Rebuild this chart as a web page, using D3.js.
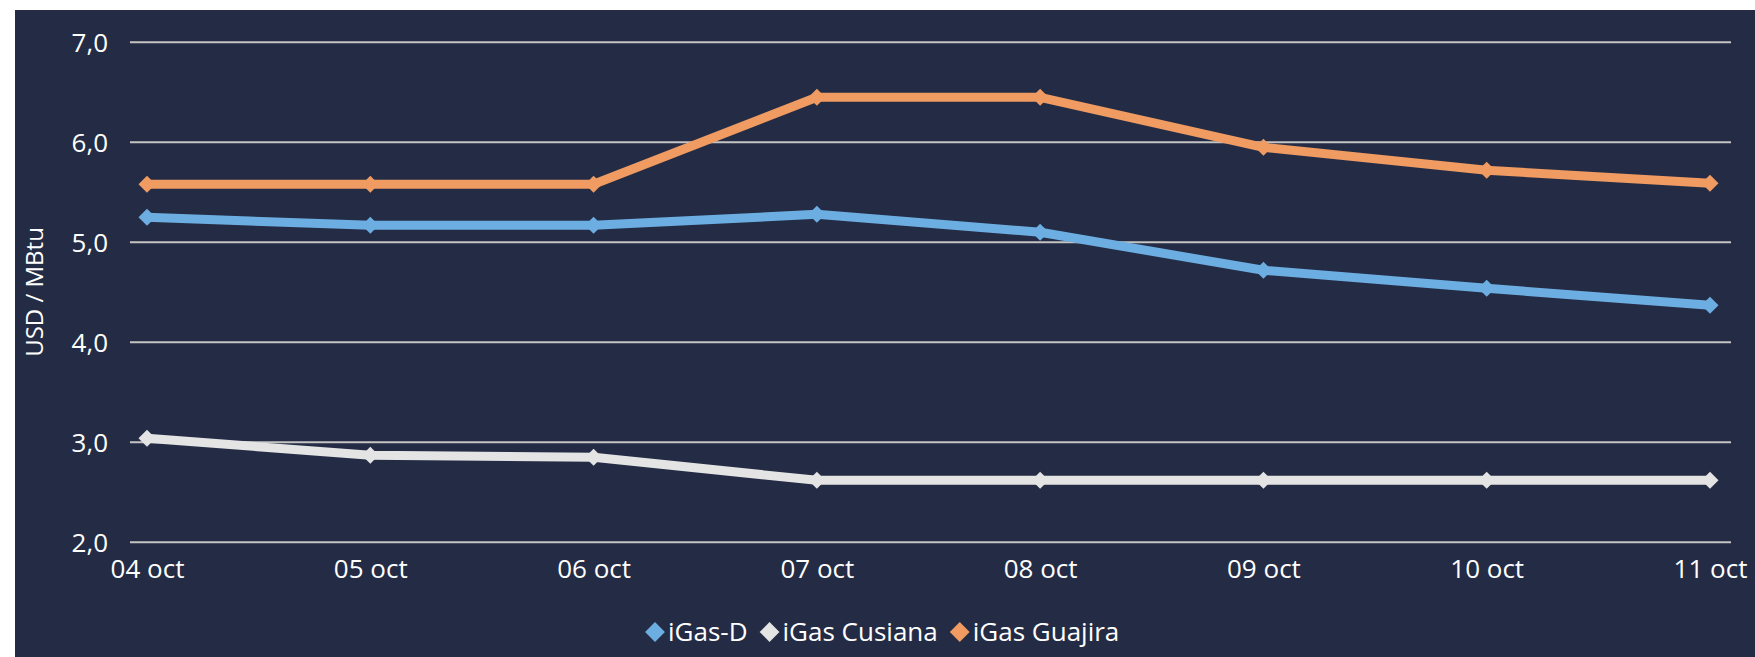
<!DOCTYPE html>
<html>
<head>
<meta charset="utf-8">
<script src="https://cdn.jsdelivr.net/npm/d3@7"></script>
<style>
  body { margin: 0; background: #ffffff; }
  svg text { font-family: "Open Sans", "Noto Sans", sans-serif; fill: #ffffff; }
</style>
</head>
<body>
<svg id="chart"></svg>
<script>
// datos
var fechas = ["04 oct", "05 oct", "06 oct", "07 oct", "08 oct", "09 oct", "10 oct", "11 oct"];
var igasD = [5.25, 5.17, 5.17, 5.28, 5.10, 4.72, 4.54, 4.37];
var igasCusiana = [3.04, 2.87, 2.85, 2.62, 2.62, 2.62, 2.62, 2.62];
var igasGuajira = [5.58, 5.58, 5.58, 6.45, 6.45, 5.95, 5.72, 5.59];
var ticksY = [2, 3, 4, 5, 6, 7];

var series = [
  { nombre: "iGas-D", valores: igasD, color: "#6daee2" },
  { nombre: "iGas Cusiana", valores: igasCusiana, color: "#e4e4e4" },
  { nombre: "iGas Guajira", valores: igasGuajira, color: "#ef9b62" }
];

var w = 1755, h = 657;
var svg = d3.select("#chart").attr("width", w).attr("height", h);

// fondo oscuro
svg.append("rect")
  .attr("x", 15).attr("y", 10)
  .attr("width", w - 15).attr("height", h - 10)
  .attr("fill", "#242c45");

var x = d3.scalePoint().domain(fechas).range([147, 1710]);
var y = d3.scaleLinear().domain([2, 7]).range([542.3, 42.3]);

// lineas de la rejilla
svg.selectAll(".grid")
  .data(ticksY)
  .enter()
  .append("line")
  .attr("x1", 130).attr("x2", 1731)
  .attr("y1", function(d){ return y(d); })
  .attr("y2", function(d){ return y(d); })
  .attr("stroke", "#c4c4c4")
  .attr("stroke-width", 2);

// etiquetas eje y
var fmt = function(d){ return d.toFixed(1).replace(".", ","); };
var ejeY = d3.axisLeft(y).tickValues(ticksY).tickFormat(fmt).tickSize(0).tickPadding(0);
var gY = svg.append("g").attr("transform", "translate(108,0)").call(ejeY);
gY.select(".domain").remove();
gY.selectAll("text").style("font-size", "26px").attr("fill", "#ffffff").attr("dy", "0.35em");

// etiquetas eje x
var ejeX = d3.axisBottom(x).tickSize(0).tickPadding(0);
var gX = svg.append("g").attr("transform", "translate(0,558)").call(ejeX);
gX.select(".domain").remove();
gX.selectAll("text").style("font-size", "26px").attr("fill", "#ffffff").attr("dy", "0.75em");

// titulo eje y
svg.append("text")
  .attr("transform", "translate(43,292) rotate(-90)")
  .attr("text-anchor", "middle")
  .style("font-size", "24px")
  .text("USD / MBtu");

var linea = d3.line()
  .x(function(d, i){ return x(fechas[i]); })
  .y(function(d){ return y(d); });

var diamante = d3.symbol().type(d3.symbolSquare).size(144);

series.forEach(function(s){
  svg.append("path")
    .attr("d", linea(s.valores))
    .attr("fill", "none")
    .attr("stroke", s.color)
    .attr("stroke-width", 9)
    .attr("stroke-linejoin", "round");
  svg.selectAll(null)
    .data(s.valores)
    .enter()
    .append("path")
    .attr("d", diamante)
    .attr("fill", s.color)
    .attr("transform", function(d, i){
      return "translate(" + x(fechas[i]) + "," + y(d) + ") rotate(45)";
    });
});

// leyenda
var leyenda = svg.append("g");
var posX = 645;
var diamLeyenda = d3.symbol().type(d3.symbolSquare).size(196);
series.forEach(function(s){
  leyenda.append("path")
    .attr("d", diamLeyenda)
    .attr("fill", s.color)
    .attr("transform", "translate(" + (posX + 10) + ",632) rotate(45)");
  var t = leyenda.append("text")
    .attr("x", posX + 23)
    .attr("y", 641)
    .style("font-size", "26px")
    .text(s.nombre);
  posX = posX + 23 + t.node().getComputedTextLength() + 12;
});
</script>
</body>
</html>
